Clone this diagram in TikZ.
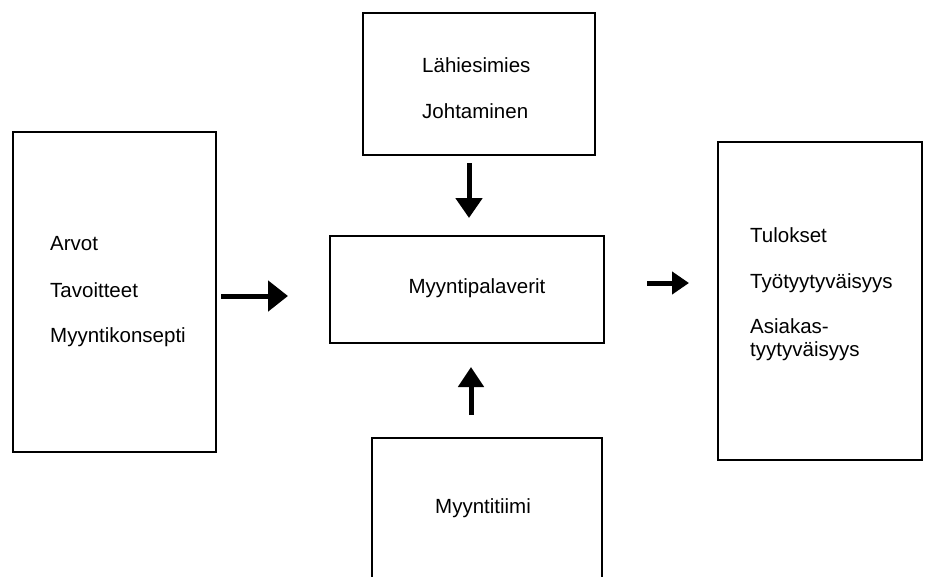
\documentclass[tikz,border=0pt]{standalone}
\usepackage{fontspec}
\setmainfont{Liberation Sans}
\usetikzlibrary{arrows.meta}

\tikzset{
  box/.style={draw, line width=1.2pt, inner sep=0pt},
  txt/.style={anchor=base west, inner sep=0pt, font=\fontsize{20.5}{22}\selectfont},
  bigarrow/.style={line width=5pt, -{Triangle[length=20pt,width=30pt]}},
  smallarrow/.style={line width=5pt, -{Triangle[length=17pt,width=22pt]}}
}

\begin{document}
\begin{tikzpicture}[x=1pt,y=-1pt]
  \clip (0,0) rectangle (925,576);

  \node[box, minimum width=203pt, minimum height=320pt] (arvot) at (114.5,292) {};
  \node[box, minimum width=232pt, minimum height=142pt] (esimies) at (479,84) {};
  \node[box, minimum width=274pt, minimum height=107pt] (palaveri) at (467,289.5) {};
  \node[box, minimum width=230pt, minimum height=200pt] (tiimi) at (487,538) {};
  \node[box, minimum width=204pt, minimum height=318pt] (tulos) at (820,301) {};

  \node[txt] (t1) at (50,250) {Arvot};
  \node[txt] (t2) at (50,297) {Tavoitteet};
  \node[txt] (t3) at (50,342) {Myyntikonsepti};
  \node[txt] (e1) at (422,72) {Lähiesimies};
  \node[txt] (e2) at (422,118) {Johtaminen};
  \node[txt, anchor=base] (p1) at (477,293) {Myyntipalaverit};
  \node[txt] (m1) at (435,513) {Myyntitiimi};
  \node[txt] (r1) at (750,242) {Tulokset};
  \node[txt] (r2) at (750,288) {Työtyytyväisyys};
  \node[txt] (r3) at (750,333) {Asiakas-};
  \node[txt] (r4) at (750,356) {tyytyväisyys};

  \coordinate (arvot-out) at (221,296);
  \coordinate (palaveri-in) at (288,296);
  \coordinate (esimies-out) at (469,163);
  \coordinate (palaveri-top) at (469,218);
  \coordinate (tiimi-out) at (471,415);
  \coordinate (palaveri-bot) at (471,367);
  \coordinate (palaveri-out) at (647,283);
  \coordinate (tulos-in) at (689,283);

  \draw[bigarrow] (arvot-out) -- (palaveri-in);
  \draw[bigarrow, -{Triangle[length=20pt,width=26pt]}] (esimies-out) -- (palaveri-top);
  \draw[bigarrow, -{Triangle[length=20pt,width=25pt]}] (tiimi-out) -- (palaveri-bot);
  \draw[smallarrow] (palaveri-out) -- (tulos-in);
\end{tikzpicture}
\end{document}
